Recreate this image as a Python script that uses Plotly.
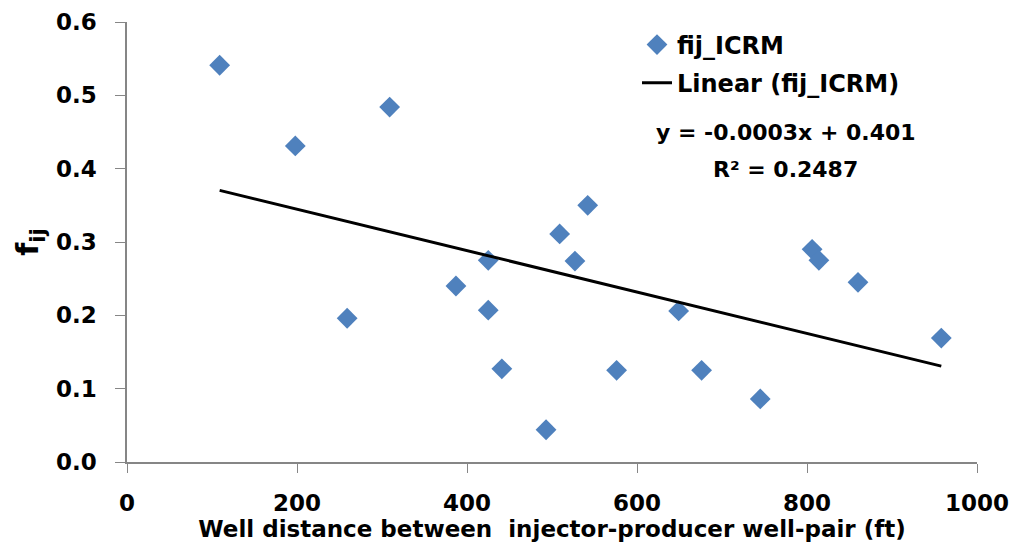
import numpy as np
import plotly.graph_objects as go

distance_ft = [109, 198, 309, 259, 387, 425, 425, 441, 493, 509, 527, 542, 576, 649, 676, 745, 806, 814, 860, 958]
fij_icrm = [0.541, 0.431, 0.484, 0.196, 0.240, 0.275, 0.207, 0.127, 0.044, 0.311, 0.274, 0.350, 0.125, 0.206, 0.125, 0.086, 0.290, 0.275, 0.245, 0.169]
x_ticks = [0, 200, 400, 600, 800, 1000]
y_ticks = [0.0, 0.1, 0.2, 0.3, 0.4, 0.5, 0.6]
y_tick_text = ["0.0", "0.1", "0.2", "0.3", "0.4", "0.5", "0.6"]

# trend line (least squares) spanning the data range
slope, intercept = np.polyfit(distance_ft, fij_icrm, 1)
x_fit = [min(distance_ft), max(distance_ft)]
y_fit = [slope * v + intercept for v in x_fit]

FONT = "DejaVu Sans"

fig = go.Figure()
fig.add_trace(go.Scatter(
    x=distance_ft, y=fij_icrm, mode="markers", name="fij_ICRM", legendgroup="a",
    marker=dict(symbol="diamond", size=16, color="#4F81BD"),
))
fig.add_trace(go.Scatter(
    x=x_fit, y=y_fit, mode="lines", name="Linear (fij_ICRM)", legendgroup="b",
    line=dict(color="black", width=3),
))

fig.add_annotation(x=0.775, y=0.75, xref="paper", yref="paper",
                   xanchor="center", yanchor="middle",
                   text="<b>y = -0.0003x + 0.401</b>", showarrow=False,
                   font=dict(family=FONT, size=22, color="black"))
fig.add_annotation(x=0.775, y=0.664, xref="paper", yref="paper",
                   xanchor="center", yanchor="middle",
                   text="<b>R² = 0.2487</b>", showarrow=False,
                   font=dict(family=FONT, size=22, color="black"))

fig.update_layout(
    width=1013, height=552,
    margin=dict(l=127, r=36, t=22, b=90),
    paper_bgcolor="white", plot_bgcolor="white",
    font=dict(family=FONT, size=21, color="black"),
    showlegend=True,
    legend=dict(x=0.6, y=0.999, xanchor="left", yanchor="top",
                bgcolor="rgba(0,0,0,0)", font=dict(family=FONT, size=24, color="black", weight="bold"),
                tracegroupgap=4),
    xaxis=dict(range=[0, 1000], tickvals=x_ticks, showgrid=False, zeroline=False,
               showline=True, linecolor="#868686", linewidth=1.5,
               ticks="outside", ticklen=9, tickcolor="#868686",
               ticklabelstandoff=11, automargin=False,
               tickfont=dict(family=FONT, size=23, weight="bold"),
               title=dict(text="<b>Well distance between  injector-producer well-pair (ft)</b>",
                          font=dict(family=FONT, size=23), standoff=6)),
    yaxis=dict(range=[0, 0.6], tickvals=y_ticks, ticktext=y_tick_text, showgrid=False, zeroline=False,
               showline=True, linecolor="#868686", linewidth=1.5,
               ticks="outside", ticklen=10, tickcolor="#868686",
               ticklabelstandoff=14, automargin=False,
               tickfont=dict(family=FONT, size=23, weight="bold"),
               title=dict(text="<b>f<sub>ij</sub></b>", font=dict(family=FONT, size=30), standoff=8)),
)

fig.write_html("out.html")
